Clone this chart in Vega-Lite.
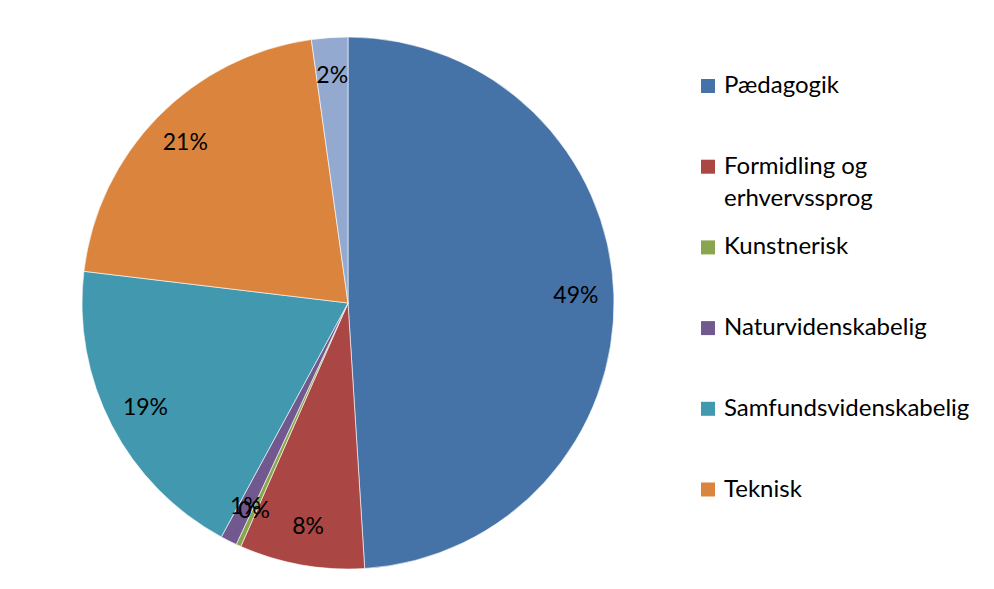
{
  "$schema": "https://vega.github.io/schema/vega-lite/v6.json",
  "width": 532,
  "height": 532,
  "autosize": {"type": "none"},
  "padding": {"left": 82, "top": 37, "right": 380, "bottom": 20},
  "background": "white",
  "config": {
    "view": {"stroke": null},
    "style": {"guide-label": {"lineHeight": 32}}
  },
  "data": {"values": [
    {"kategori": "Pædagogik", "andel": 0.490, "orden": 1},
    {"kategori": "Formidling og erhvervssprog", "andel": 0.076, "orden": 2},
    {"kategori": "Kunstnerisk", "andel": 0.003, "orden": 3},
    {"kategori": "Naturvidenskabelig", "andel": 0.010, "orden": 4},
    {"kategori": "Samfundsvidenskabelig", "andel": 0.190, "orden": 5},
    {"kategori": "Teknisk", "andel": 0.209, "orden": 6},
    {"kategori": "Andet", "andel": 0.022, "orden": 7}
  ]},
  "encoding": {
    "theta": {"field": "andel", "type": "quantitative", "stack": true},
    "order": {"field": "orden", "type": "quantitative"}
  },
  "layer": [
    {
      "mark": {"type": "arc", "outerRadius": 266, "stroke": "#ffffff", "strokeWidth": 0.6},
      "encoding": {
        "color": {
          "field": "kategori",
          "type": "nominal",
          "scale": {
            "domain": ["Pædagogik", "Formidling og erhvervssprog", "Kunstnerisk", "Naturvidenskabelig", "Samfundsvidenskabelig", "Teknisk", "Andet"],
            "range": ["#4572A7", "#AA4643", "#89A54E", "#71588F", "#4198AF", "#DB843D", "#93A9CF"]
          },
          "legend": {
            "orient": "none",
            "legendX": 614,
            "legendY": 37,
            "title": null,
            "padding": 0,
            "values": ["Pædagogik", "Formidling og erhvervssprog", "Kunstnerisk", "Naturvidenskabelig", "Samfundsvidenskabelig", "Teknisk"],
            "symbolType": "square",
            "symbolSize": 196,
            "symbolStrokeWidth": 0,
            "symbolOpacity": 1,
            "labelFont": "Lato",
            "labelFontSize": 24,
            "labelColor": "#000000",
            "labelOffset": 4,
            "labelLimit": 400,
            "rowPadding": 24.7,
            "labelExpr": "datum.label == 'Formidling og erhvervssprog' ? ['Formidling og', 'erhvervssprog'] : [datum.label, ' ']"
          }
        }
      }
    },
    {
      "mark": {"type": "text", "radius": 228, "font": "Lato", "fontSize": 23, "color": "#000000"},
      "encoding": {
        "detail": {"field": "kategori", "type": "nominal"},
        "text": {"field": "andel", "type": "quantitative", "format": ".0%"}
      }
    }
  ]
}
